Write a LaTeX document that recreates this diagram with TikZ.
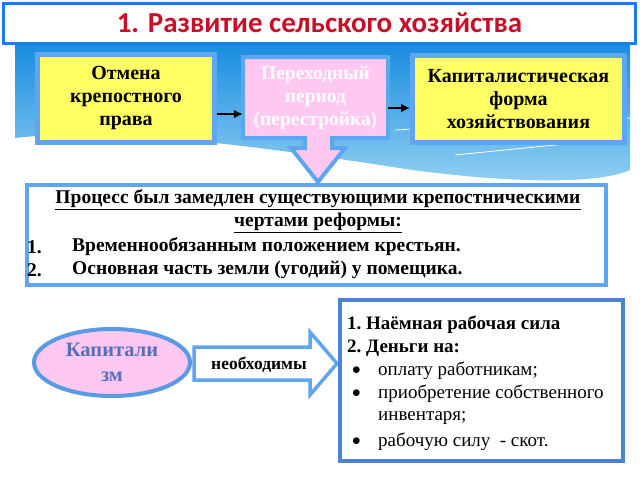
\documentclass[tikz,border=0pt]{standalone}
\usepackage{fontspec}
\setmainfont{Liberation Serif}
\newfontfamily\titlefont{Carlito}
\usetikzlibrary{arrows.meta}
\usetikzlibrary{shapes.geometric}

\definecolor{bannertop}{RGB}{25,140,225}
\definecolor{bannerbot}{RGB}{150,210,242}
\definecolor{titleblue}{RGB}{25,125,225}
\definecolor{titlered}{RGB}{200,15,40}
\definecolor{lightblue}{RGB}{95,165,240}
\definecolor{darkblue}{RGB}{75,130,210}
\definecolor{boxyellow}{RGB}{255,255,100}
\definecolor{boxpink}{RGB}{255,200,240}
\definecolor{capblue}{RGB}{85,110,190}

\tikzset{
  ybox/.style={draw=lightblue,line width=5pt,fill=boxyellow,align=center,
    font=\bfseries\fontsize{20}{23}\selectfont},
  txt/.style={inner sep=0pt,anchor=west},
  mid/.style={txt,font=\bfseries\fontsize{19.5}{23}\selectfont},
  arr/.style={-{Latex[length=9pt,width=9pt]},line width=2.5pt,black}
}

\begin{document}
\begin{tikzpicture}[x=1pt,y=-1pt]
    \useasboundingbox (0,0) rectangle (640,480);
    % background banner
    \shade[top color=bannertop,bottom color=bannerbot]
      (15,44) -- (630,44) -- (630,170)
      .. controls (590,188) and (470,180) .. (380,165)
      .. controls (280,150) and (120,126) .. (15,138) -- cycle;
    \draw[white,line width=0.8pt] (395,130) -- (630,118);
    \draw[white,line width=0.8pt] (455,155) -- (625,138);
    % title
    \node[draw=titleblue,line width=3pt,fill=white,minimum width=632pt,
      minimum height=40pt,font=\titlefont\bfseries\fontsize{29}{32}\selectfont,
      text=titlered] (title) at (319.5,23) {1. Развитие сельского хозяйства};
    % top row
    \node[ybox,minimum width=177pt,minimum height=88pt] (otm) at (126,98.5)
      {Отмена\\крепостного\\права};
    \draw[draw=lightblue,line width=4pt,fill=boxpink]
      (243,57) -- (388,57) -- (388,138) -- (332,138) -- (332,148) -- (345,148)
      -- (318,182) -- (291,148) -- (305,148) -- (305,138) -- (243,138) -- cycle;
    \node[minimum width=145pt,minimum height=81pt,align=center,text=white,
      font=\bfseries\fontsize{19.5}{23}\selectfont] (trans) at (315.5,97.5)
      {Переходный\\период\\(перестройка)};
    \node[ybox,minimum width=212pt,minimum height=87pt] (cap) at (518.5,99)
      {Капиталистическая\\форма\\хозяйствования};
    \draw[arr] (otm.east |- 0,114) -- (trans.west |- 0,114);
    \draw[arr] (trans.east |- 0,108) -- (cap.west |- 0,108);
    % middle box
    \node[draw=lightblue,line width=4pt,fill=white,minimum width=579pt,
      minimum height=100pt] (proc) at (316.5,235) {};
    \node[align=center,inner sep=0pt,font=\bfseries\fontsize{19.5}{23}\selectfont]
      (head) at (318,211) {\underline{Процесс был замедлен существующими крепостническими}\\
      \underline{чертами реформы:}};
    \node[mid] (n1) at (27,247) {1.};
    \node[mid] (p1) at (72,247) {Временнообязанным положением крестьян.};
    \node[mid] (n2) at (27,270) {2.};
    \node[mid] (p2) at (72,270) {Основная часть земли (угодий) у помещика.};
    % bottom row
    \node[ellipse,draw=lightblue!70!darkblue,line width=4pt,fill=boxpink,
      minimum width=156pt,minimum height=67pt,align=center,text=capblue,
      font=\bfseries\fontsize{20.5}{25}\selectfont] (kap) at (112,362.5)
      {Капитали\\зм};
    \draw[draw=lightblue,line width=3.5pt,fill=white]
      (194,347) -- (310,347) -- (310,332) -- (337,363.5) -- (310,395)
      -- (310,380) -- (194,380) -- cycle;
    \node[font=\bfseries\fontsize{17.5}{20}\selectfont] (need) at (259,365)
      {необходимы};
    \node[draw=darkblue,line width=4pt,fill=white,minimum width=283pt,
      minimum height=161pt] (res) at (481.5,380.5) {};
    \node[txt,font=\bfseries\fontsize{19}{23}\selectfont] (r1) at (347,325)
      {1.\ Наёмная рабочая сила};
    \node[txt,font=\bfseries\fontsize{19}{23}\selectfont] (r2) at (347,348)
      {2.\ Деньги на:};
    \foreach \yy/\item in {371/{оплату работникам;},394/{приобретение собственного},
      442/{рабочую силу\ \ - скот.}} {
      \node[txt,font=\fontsize{19}{23}\selectfont] (b\yy) at (352,\yy) {$\bullet$};
      \node[txt,font=\fontsize{19}{23}\selectfont] (l\yy) at (378,\yy) {\item};
    }
    \node[txt,font=\fontsize{19}{23}\selectfont] (r6) at (378,418) {инвентаря;};
\end{tikzpicture}
\end{document}
